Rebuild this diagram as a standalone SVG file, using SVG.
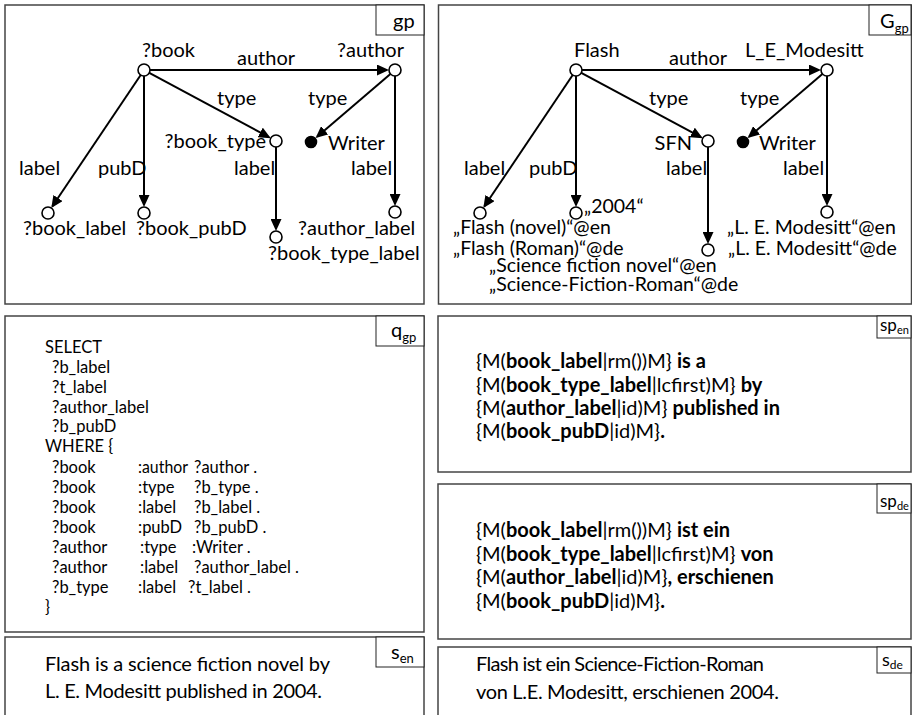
<svg xmlns="http://www.w3.org/2000/svg" width="912" height="715" viewBox="0 0 912 715">
  <style>
    text { font-family: Lato, "Liberation Sans", sans-serif; fill: #000; }
    .g { font-size: 20px; }
    .lit { font-size: 19.5px; }
    .q { font-size: 16.5px; }
    .sp { font-size: 20px; }
    .b { font-weight: bold; }
    .panel { fill: #fff; stroke: #444; stroke-width: 1.5; }
    .tag { fill: #fff; stroke: #222; stroke-width: 1; }
    .edge { stroke: #000; stroke-width: 2; fill: none; marker-end: url(#arr); }
    .node { fill: #fff; stroke: #000; stroke-width: 1.6; }
    .iri { fill: #000; stroke: #000; stroke-width: 1.6; }
  </style>
  <defs>
    <marker id="arr" markerUnits="userSpaceOnUse" markerWidth="12" markerHeight="11" refX="10" refY="5.5" orient="auto">
      <path d="M0,0 L12,5.5 L0,11 z" fill="#000"/>
    </marker>
  </defs>

  <rect width="912" height="715" fill="#fff"/>

  <!-- panel frames -->
  <g id="panels">
    <rect class="panel" x="5" y="5" width="419" height="299"/>
    <rect class="panel" x="438.5" y="5" width="473" height="299"/>
    <rect class="panel" x="5" y="316" width="419" height="316"/>
    <rect class="panel" x="438" y="316" width="473" height="156"/>
    <rect class="panel" x="438" y="484" width="473" height="155"/>
    <rect class="panel" x="5" y="637" width="419" height="90"/>
    <rect class="panel" x="438" y="647" width="473" height="80"/>
  </g>

  <!-- panel tags -->
  <g id="tags" class="g">
    <rect class="tag" x="376" y="5" width="48" height="30"/>
    <text x="393" y="28">gp</text>
    <rect class="tag" x="869" y="5" width="42" height="30"/>
    <text x="880" y="28">G<tspan font-size="13" dy="5">gp</tspan></text>
    <rect class="tag" x="376" y="316" width="48" height="30"/>
    <text x="391" y="337">q<tspan font-size="13" dy="5">gp</tspan></text>
    <rect class="tag" x="877" y="316" width="34" height="22"/>
    <text x="880" y="331" font-size="17">sp<tspan font-size="11" dy="3">en</tspan></text>
    <rect class="tag" x="877" y="484" width="34" height="29"/>
    <text x="880" y="507" font-size="17">sp<tspan font-size="11" dy="3">de</tspan></text>
    <rect class="tag" x="376" y="637" width="48" height="30"/>
    <text x="391" y="659">s<tspan font-size="13" dy="4">en</tspan></text>
    <rect class="tag" x="877" y="647" width="34" height="26"/>
    <text x="882" y="666" font-size="18">s<tspan font-size="12" dy="3">de</tspan></text>
  </g>

  <!-- graph pattern connectors -->
  <g id="connectors">
    <line class="edge" x1="150" y1="70" x2="387" y2="70"/>
    <line class="edge" x1="140.7" y1="75" x2="52.4" y2="206.3"/>
    <line class="edge" x1="144" y1="76" x2="144" y2="205"/>
    <line class="edge" x1="149.3" y1="72.8" x2="269" y2="137.2"/>
    <line class="edge" x1="276" y1="147" x2="276" y2="229"/>
    <line class="edge" x1="390.4" y1="73.9" x2="317.1" y2="136.8"/>
    <line class="edge" x1="395" y1="76" x2="395" y2="204"/>

    <line class="edge" x1="582" y1="70" x2="819" y2="70"/>
    <line class="edge" x1="572.7" y1="75" x2="484.4" y2="206.3"/>
    <line class="edge" x1="576" y1="76" x2="576" y2="205"/>
    <line class="edge" x1="581.3" y1="72.8" x2="701" y2="137.2"/>
    <line class="edge" x1="708" y1="147" x2="708" y2="242"/>
    <line class="edge" x1="822.4" y1="73.9" x2="749.1" y2="136.8"/>
    <line class="edge" x1="827" y1="76" x2="827" y2="204"/>
  </g>

  <!-- graph pattern gp -->
  <g id="gp" class="g">
    <g id="n-book"><circle class="node" cx="144" cy="70" r="6"/><text x="142" y="57">?book</text></g>
    <g id="n-author"><circle class="node" cx="395" cy="70" r="6"/><text x="337" y="57">?author</text></g>
    <g id="n-book-type"><circle class="node" cx="276" cy="141" r="6"/><text x="266" y="148" text-anchor="end">?book_type</text></g>
    <g id="n-writer"><circle class="iri" cx="311" cy="142" r="5.5"/><text x="328" y="150">Writer</text></g>
    <g id="n-book-label"><circle class="node" cx="48" cy="213" r="6"/><text x="23" y="235">?book_label</text></g>
    <g id="n-book-pubD"><circle class="node" cx="144" cy="213" r="6"/><text x="136" y="235">?book_pubD</text></g>
    <g id="n-book-type-label"><circle class="node" cx="276" cy="237" r="6"/><text x="268" y="260">?book_type_label</text></g>
    <g id="n-author-label"><circle class="node" cx="395" cy="212" r="6"/><text x="298" y="235">?author_label</text></g>
    <g id="gp-edge-labels">
      <text x="237" y="65">author</text>
      <text x="217" y="105">type</text>
      <text x="308" y="105">type</text>
      <text x="19" y="175">label</text>
      <text x="98" y="175">pubD</text>
      <text x="234" y="175">label</text>
      <text x="351" y="175">label</text>
    </g>
  </g>

  <!-- data graph G_gp -->
  <g id="Ggp" class="g">
    <g id="n-flash"><circle class="node" cx="576" cy="70" r="6"/><text x="574" y="57">Flash</text></g>
    <g id="n-modesitt"><circle class="node" cx="827" cy="70" r="6"/><text x="745" y="57">L_E_Modesitt</text></g>
    <g id="n-sfn"><circle class="node" cx="708" cy="141" r="6"/><text x="692" y="150" text-anchor="end">SFN</text></g>
    <g id="n-writer2"><circle class="iri" cx="743" cy="142" r="5.5"/><text x="759" y="150">Writer</text></g>
    <g id="n-flash-label" class="lit"><circle class="node" cx="480" cy="213" r="6"/>
      <text x="453" y="234">„Flash (novel)“@en</text>
      <text x="453" y="255">„Flash (Roman)“@de</text></g>
    <g id="n-2004" class="lit"><circle class="node" cx="576" cy="213" r="6"/><text x="584" y="213">„2004“</text></g>
    <g id="n-sfn-label" class="lit"><circle class="node" cx="708" cy="250" r="6"/>
      <text x="489" y="272">„Science fiction novel“@en</text>
      <text x="489" y="291">„Science-Fiction-Roman“@de</text></g>
    <g id="n-modesitt-label" class="lit"><circle class="node" cx="827" cy="212" r="6"/>
      <text x="727" y="234">„L. E. Modesitt“@en</text>
      <text x="728" y="255">„L. E. Modesitt“@de</text></g>
    <g id="Ggp-edge-labels">
      <text x="669" y="65">author</text>
      <text x="649" y="105">type</text>
      <text x="740" y="105">type</text>
      <text x="464" y="175">label</text>
      <text x="529" y="175">pubD</text>
      <text x="666" y="175">label</text>
      <text x="783" y="175">label</text>
    </g>
  </g>

  <!-- SPARQL query q_gp -->
  <g id="qgp" class="q">
    <text x="45" y="353">SELECT</text>
    <text x="52" y="373">?b_label</text>
    <text x="52" y="393">?t_label</text>
    <text x="52" y="413">?author_label</text>
    <text x="52" y="432">?b_pubD</text>
    <text x="45" y="452">WHERE {</text>
    <g>
      <text x="52" y="473">?book</text><text x="138" y="473" textLength="50" lengthAdjust="spacingAndGlyphs">:author</text><text x="194" y="473">?author .</text>
      <text x="52" y="493">?book</text><text x="138" y="493">:type</text><text x="194" y="493">?b_type .</text>
      <text x="52" y="513">?book</text><text x="138" y="513">:label</text><text x="194" y="513">?b_label .</text>
      <text x="52" y="533">?book</text><text x="138" y="533">:pubD</text><text x="194" y="533">?b_pubD .</text>
      <text x="52" y="553">?author</text><text x="140" y="553">:type</text><text x="192" y="553">:Writer .</text>
      <text x="52" y="573">?author</text><text x="140" y="573">:label</text><text x="194" y="573">?author_label .</text>
      <text x="52" y="593">?b_type</text><text x="138" y="593">:label</text><text x="188" y="593">?t_label .</text>
    </g>
    <text x="45" y="613">}</text>
  </g>

  <!-- sentence plan sp_en -->
  <g id="spen" class="sp">
    <text x="476" y="368">{M(<tspan class="b">book_label</tspan>|rm())M} <tspan class="b">is a</tspan></text>
    <text x="476" y="392">{M(<tspan class="b">book_type_label</tspan>|lcfirst)M} <tspan class="b">by</tspan></text>
    <text x="476" y="415">{M(<tspan class="b">author_label</tspan>|id)M} <tspan class="b">published in</tspan></text>
    <text x="476" y="438">{M(<tspan class="b">book_pubD</tspan>|id)M}<tspan class="b">.</tspan></text>
  </g>

  <!-- sentence plan sp_de -->
  <g id="spde" class="sp">
    <text x="476" y="537">{M(<tspan class="b">book_label</tspan>|rm())M} <tspan class="b">ist ein</tspan></text>
    <text x="476" y="561">{M(<tspan class="b">book_type_label</tspan>|lcfirst)M} <tspan class="b">von</tspan></text>
    <text x="476" y="584">{M(<tspan class="b">author_label</tspan>|id)M}<tspan class="b">, erschienen</tspan></text>
    <text x="476" y="608">{M(<tspan class="b">book_pubD</tspan>|id)M}<tspan class="b">.</tspan></text>
  </g>

  <!-- sentences -->
  <g id="sen" class="sp">
    <text x="45" y="671" textLength="285" lengthAdjust="spacing">Flash is a science fiction novel by</text>
    <text x="45" y="698" textLength="277" lengthAdjust="spacing">L. E. Modesitt published in 2004.</text>
  </g>
  <g id="sde" class="sp">
    <text x="476" y="671" textLength="288" lengthAdjust="spacing">Flash ist ein Science-Fiction-Roman</text>
    <text x="476" y="699" textLength="303" lengthAdjust="spacing">von L.E. Modesitt, erschienen 2004.</text>
  </g>
</svg>
